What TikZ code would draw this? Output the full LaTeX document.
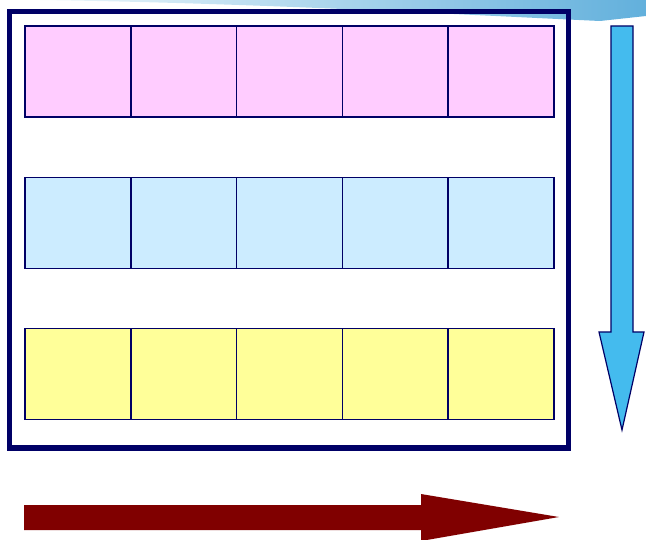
\documentclass[tikz,border=0pt]{standalone}
\usepackage{xcolor}
\usepackage{tikz}
\usetikzlibrary{positioning}
\definecolor{navyline}{HTML}{000066}
\definecolor{pinkcell}{HTML}{FFCCFF}
\definecolor{bluecell}{HTML}{CCECFF}
\definecolor{yellowcell}{HTML}{FFFF99}
\definecolor{downblue}{HTML}{44BBEE}
\definecolor{rightred}{HTML}{800000}
\definecolor{swooshdark}{HTML}{62B0DC}
\definecolor{swooshmid}{HTML}{8ECDEC}
\definecolor{swooshlight}{HTML}{EEF7FB}

\begin{document}
\begin{tikzpicture}[x=1pt,y=-1pt,
  cell/.style={draw=navyline,line width=1.5pt,inner sep=0pt,outer sep=0pt,minimum width=105.8pt,minimum height=91pt},
  frame/.style={draw=navyline,line width=5.5pt},
  downarrow/.style={draw=navyline,line width=1.2pt,fill=downblue,line join=miter},
  rightarrow/.style={fill=rightred}]
\useasboundingbox (0,0) rectangle (646,540);
% swoosh at the top
\shade[left color=swooshlight,middle color=swooshmid,right color=swooshdark]
  (40,0) .. controls (250,3) and (450,14) .. (600,21) -- (646,16) -- (646,0) -- cycle;
% three rows of cells
\foreach \i in {1,...,5} {
  \node[cell,fill=pinkcell] (p\i) at ({25+105.8*(\i-0.5)},71.5) {};
  \node[cell,fill=bluecell] (b\i) at ({25+105.8*(\i-0.5)},223) {};
  \node[cell,fill=yellowcell] (y\i) at ({25+105.8*(\i-0.5)},374) {};
}
% outer frame
\draw[frame] (9.5,11.5) rectangle (568.5,448);
% down arrow
\draw[downarrow] (611,26) -- (633,26) -- (633,332) -- (644,332) -- (622,430)
  -- (599,332) -- (611,332) -- cycle;
% right arrow
\fill[rightarrow] (24,505) -- (421,505) -- (421,494) -- (559,517) -- (421,541)
  -- (421,530) -- (24,530) -- cycle;
\end{tikzpicture}
\end{document}
